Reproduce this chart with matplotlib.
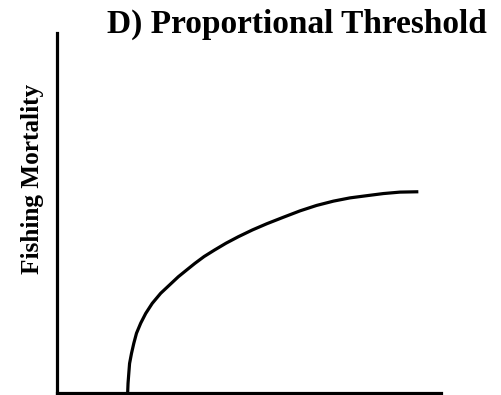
import matplotlib
matplotlib.use("Agg")
import matplotlib.pyplot as plt

# Curve (biomass %, fishing mortality %)
biomass = [18.4, 18.5, 18.7, 18.9, 19.4, 20.0, 20.7, 21.8, 23.1, 24.8, 27.0, 29.3,
           31.6, 33.8, 35.9, 38.3, 41.0, 44.0, 47.2, 50.9, 54.6, 58.9, 63.3, 67.6,
           72.0, 76.3, 80.6, 85.0, 89.3, 94.1]
mortality = [0.0, 2.7, 5.5, 8.2, 11.0, 13.8, 16.6, 19.4, 22.1, 24.9, 27.7, 30.0,
             32.3, 34.2, 36.0, 37.9, 39.7, 41.6, 43.4, 45.3, 47.0, 48.8, 50.6, 52.1,
             53.3, 54.2, 54.8, 55.4, 55.8, 55.9]

title = "D) Proportional Threshold"
ylabel = "Fishing Mortality"

W, H = 501, 395
fig = plt.figure(figsize=(W / 100, H / 100), dpi=100)
ax = fig.add_axes([57 / W, (H - 393) / H, (441 - 57) / W, (393 - 33) / H])
ax.plot(biomass, mortality, color="black", lw=2.3, solid_capstyle="butt",
        solid_joinstyle="round")
ax.set_xlim(0, 100)
ax.set_ylim(0, 100)
for s in ["top", "right"]:
    ax.spines[s].set_visible(False)
for s in ["left", "bottom"]:
    ax.spines[s].set_linewidth(2.3)
ax.set_xticks([])
ax.set_yticks([])

fig.text(296.5 / W, (H - 33) / H, title, ha="center", va="baseline",
         fontfamily="Liberation Serif", fontweight="bold", fontsize=24)
fig.text(33 / W, (H - 179) / H, ylabel, ha="center", va="center", rotation=90,
         fontfamily="Liberation Serif", fontweight="bold", fontsize=18.2)

fig.savefig("out.png", dpi=100)
